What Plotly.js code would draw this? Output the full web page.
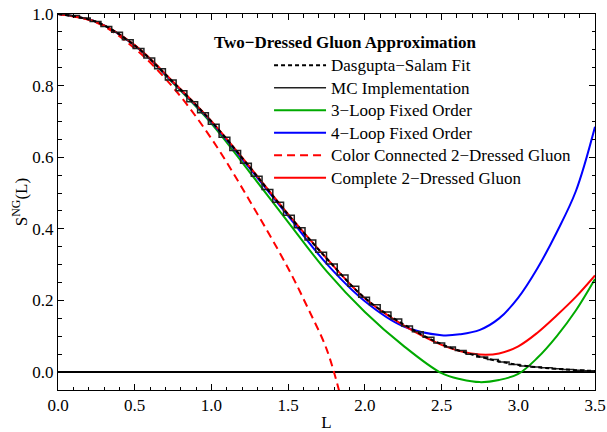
<!DOCTYPE html>
<html>
<head>
<meta charset="utf-8">
<script src="https://cdn.plot.ly/plotly-3.0.1.min.js"></script>
<style>html,body{margin:0;padding:0;background:#fff;}#chart{width:607px;height:432px;}</style>
</head>
<body>
<div id="chart"></div>
<script>
// ---- data ----
const L_ds = [0, 0.25, 0.5, 0.75, 1.0, 1.25, 1.5, 1.75, 2.0, 2.25, 2.5, 2.75, 3.0, 3.25, 3.5];
const S_ds = [1.0, 0.978, 0.912, 0.810, 0.700, 0.572, 0.440, 0.318, 0.207, 0.134, 0.078, 0.043, 0.020, 0.009, 0.003];

const mcBinWidth = 0.07;
const S_mc = [1.000,0.996,0.989,0.979,0.965,0.949,0.928,0.904,0.877,0.847,
              0.816,0.786,0.755,0.724,0.692,0.656,0.619,0.583,0.547,0.510,
              0.474,0.438,0.403,0.369,0.335,0.302,0.271,0.240,0.209,0.188,
              0.168,0.148,0.129,0.113,0.097,0.081,0.070,0.060,0.050,0.042,
              0.035,0.028,0.021,0.017,0.014,0.012,0.009,0.007,0.005,0.004];

const L_fo = [0, 0.25, 0.5, 0.75, 1.0, 1.25, 1.5, 1.75, 2.0, 2.25, 2.5, 2.625, 2.75, 2.875, 3.0, 3.125, 3.25, 3.375, 3.5];
const S_3loop = [1.0, 0.978, 0.912, 0.807, 0.694, 0.558, 0.419, 0.282, 0.168, 0.074, -0.003, -0.020, -0.028, -0.022, -0.005, 0.040, 0.100, 0.172, 0.260];
const S_4loop = [1.0, 0.978, 0.912, 0.809, 0.698, 0.569, 0.436, 0.303, 0.198, 0.128, 0.103, 0.106, 0.118, 0.150, 0.208, 0.290, 0.390, 0.505, 0.685];
const S_complete = [1.0, 0.978, 0.913, 0.811, 0.701, 0.573, 0.441, 0.318, 0.206, 0.131, 0.076, 0.058, 0.049, 0.052, 0.072, 0.110, 0.158, 0.210, 0.270];

const L_cc = [0, 0.25, 0.5, 0.75, 1.0, 1.25, 1.5, 1.625, 1.75, 1.84];
const S_cc = [1.0, 0.976, 0.904, 0.795, 0.652, 0.478, 0.290, 0.182, 0.065, -0.065];

const legendTitle = 'Two\u2212Dressed Gluon Approximation';
const names = ['Dasgupta\u2212Salam Fit', 'MC Implementation', '3\u2212Loop Fixed Order',
               '4\u2212Loop Fixed Order', 'Color Connected 2\u2212Dressed Gluon', 'Complete 2\u2212Dressed Gluon'];

// histogram edges
const L_mc = S_mc.map((_, i) => i * mcBinWidth).concat([S_mc.length * mcBinWidth]);
const S_mc_step = S_mc.concat([S_mc[S_mc.length - 1]]);

const big = s => '<span style="font-size:17px">' + s + '</span>';
const green = 'rgb(0,170,0)';
const traces = [
  {x: L_fo, y: S_3loop, mode: 'lines', name: big(names[2]), legendrank: 3,
   line: {color: green, width: 2, shape: 'spline'}},
  {x: L_fo, y: S_4loop, mode: 'lines', name: big(names[3]), legendrank: 4,
   line: {color: '#0000ff', width: 2, shape: 'spline'}},
  {x: L_cc, y: S_cc, mode: 'lines', name: big(names[4]), legendrank: 5,
   line: {color: '#ff0000', width: 2, dash: '8px,5px', shape: 'spline'}},
  {x: L_fo, y: S_complete, mode: 'lines', name: big(names[5]), legendrank: 6,
   line: {color: '#ff0000', width: 2, shape: 'spline'}},
  {x: L_mc, y: S_mc_step, mode: 'lines', name: big(names[1]), legendrank: 2,
   line: {color: '#222222', width: 1.5, shape: 'hv'}},
  {x: L_ds, y: S_ds, mode: 'lines', name: big(names[0]), legendrank: 1,
   line: {color: '#000000', width: 2, dash: '4px,3px', shape: 'spline'}}
];

const axisCommon = {
  showline: true, linecolor: '#000', linewidth: 1, mirror: 'ticks',
  ticks: 'inside', ticklen: 6, tickwidth: 1, tickcolor: '#000',
  showgrid: false, tickformat: '.1f',
  tickfont: {family: 'Liberation Serif', size: 17, color: '#000'}
};

const layout = {
  width: 607, height: 432,
  margin: {l: 58, r: 12, t: 14, b: 42},
  paper_bgcolor: '#fff', plot_bgcolor: '#fff',
  font: {family: 'Liberation Serif', size: 15, color: '#000'},
  showlegend: true,
  legend: {x: 0.393, y: 0.907, xanchor: 'left', yanchor: 'top', itemwidth: 52,
           bgcolor: 'rgba(0,0,0,0)', borderwidth: 0,
           font: {family: 'Liberation Serif', size: 15, color: '#000'}},
  xaxis: Object.assign({}, axisCommon, {
    range: [0, 3.5], tick0: 0, dtick: 0.5, zeroline: false,
    minor: {dtick: 0.1, ticklen: 3.5, ticks: 'inside', tickcolor: '#000', tickwidth: 1},
    title: {text: 'L', font: {family: 'Liberation Serif', size: 17, color: '#000'}, standoff: 12}
  }),
  yaxis: Object.assign({}, axisCommon, {
    range: [-0.05, 1.0], tick0: 0, dtick: 0.2,
    zeroline: true, zerolinecolor: '#000', zerolinewidth: 1.5,
    minor: {dtick: 0.05, ticklen: 3.5, ticks: 'inside', tickcolor: '#000', tickwidth: 1},
    title: {text: 'S<sup>NG</sup>(L)', font: {family: 'Liberation Serif', size: 17, color: '#000'}, standoff: 0}
  }),
  annotations: [{
    xref: 'paper', yref: 'paper', x: 0.534, y: 0.923, xanchor: 'center', yanchor: 'middle',
    showarrow: false, text: '<b>' + legendTitle + '</b>',
    font: {family: 'Liberation Serif', size: 17, color: '#000'}
  }]
};

Plotly.newPlot('chart', traces, layout, {displayModeBar: false, staticPlot: true});
</script>
</body>
</html>
